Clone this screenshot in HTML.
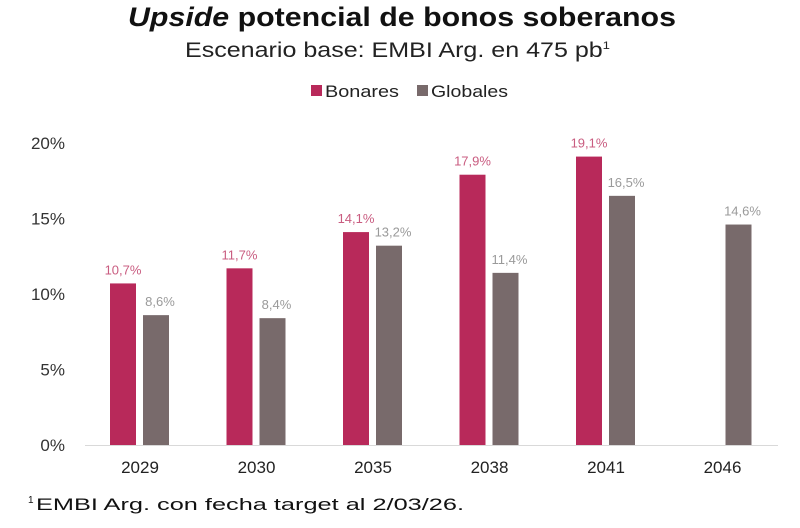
<!DOCTYPE html>
<html><head><meta charset="utf-8"><style>
html,body{margin:0;padding:0;background:#fff;width:800px;height:528px;overflow:hidden;font-family:"Liberation Sans",sans-serif}
</style></head><body>
<svg width="800" height="528" xmlns="http://www.w3.org/2000/svg">
<text x="128" y="26" textLength="548" lengthAdjust="spacingAndGlyphs" font-size="27" font-weight="bold" fill="#111"><tspan font-style="italic">Upside</tspan> potencial de bonos soberanos</text>
<text x="185" y="57" textLength="425" lengthAdjust="spacingAndGlyphs" font-size="21" fill="#222">Escenario base: EMBI Arg. en 475 pb<tspan font-size="11" dy="-8">1</tspan></text>
<g>
<rect x="311" y="85" width="11" height="11" fill="#B8295A"/>
<text x="325" y="97" textLength="74" lengthAdjust="spacingAndGlyphs" font-size="17" fill="#222">Bonares</text>
<rect x="417" y="85" width="11" height="11" fill="#786A6B"/>
<text x="431" y="97" textLength="77" lengthAdjust="spacingAndGlyphs" font-size="17" fill="#222">Globales</text>
</g>
<g id="axes"></g>
<g id="bars"></g>
<text x="28" y="510" font-size="17" fill="#111"><tspan font-size="10" dy="-7">1</tspan><tspan x="36" dy="7" textLength="428" lengthAdjust="spacingAndGlyphs">EMBI Arg. con fecha target al 2/03/26.</tspan></text>
</svg>
<script>
const categories=["2029","2030","2035","2038","2041","2046"];
const bonares=[10.7,11.7,14.1,17.9,19.1,null];
const globales=[8.6,8.4,13.2,11.4,16.5,14.6];
const yTicks=[0,5,10,15,20];
const NS="http://www.w3.org/2000/svg";
const y=v=>445-v*(302/20);
const xc=i=>140+i*116.5;
const fmt=v=>v.toFixed(1).replace('.',',')+'%';
function mk(tag,attrs,parent,text){const e=document.createElementNS(NS,tag);for(const k in attrs)e.setAttribute(k,attrs[k]);if(text!==undefined)e.textContent=text;parent.appendChild(e);return e;}
const ax=document.getElementById('axes'),bg=document.getElementById('bars');
const base=mk('line',{x1:85,x2:778,y1:445.5,y2:445.5,stroke:'#d9d9d9','stroke-width':1},ax);


yTicks.forEach(t=>{const e=mk('text',{x:65,y:y(t)+6,'text-anchor':'end','font-size':17,fill:'#333'},ax,t+'%');

});
categories.forEach((c,i)=>{const e=mk('text',{x:xc(i),y:473,'text-anchor':'middle','font-size':17,fill:'#222'},ax,c);


if(bonares[i]!=null){const v=bonares[i];
const r=mk('rect',{x:xc(i)-30,y:y(v),width:26,height:445-y(v),fill:'#B8295A'},bg);


const l=mk('text',{x:xc(i)-17,y:y(v)-9,'text-anchor':'middle','font-size':13,fill:'#C95C80'},bg,fmt(v));

}
if(globales[i]!=null){const v=globales[i];
const r=mk('rect',{x:xc(i)+3,y:y(v),width:26,height:445-y(v),fill:'#786A6B'},bg);


const l=mk('text',{x:xc(i)+20,y:y(v)-9,'text-anchor':'middle','font-size':13,fill:'#9a9a9a'},bg,fmt(v));

}
});
</script>
</body></html>
